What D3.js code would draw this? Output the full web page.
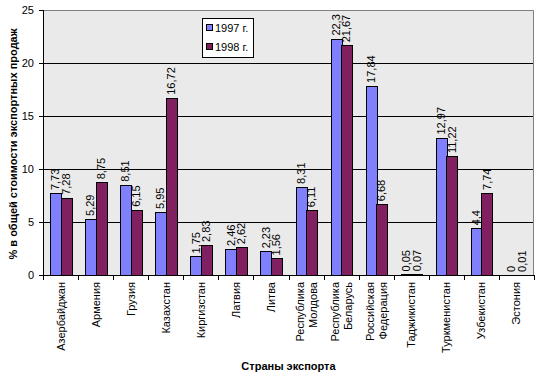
<!DOCTYPE html>
<html>
<head>
<meta charset="utf-8">
<script src="https://cdn.jsdelivr.net/npm/d3@7"></script>
<style>
  body { margin: 0; background: #fff; }
  text { font-family: Arial, "Liberation Sans", sans-serif; }
</style>
</head>
<body>
<script>
var countries = [["Азербайджан"], ["Армения"], ["Грузия"], ["Казахстан"], ["Киргизстан"], ["Латвия"], ["Литва"],
    ["Республика", "Молдова"], ["Республика", "Беларусь"], ["Российская", "Федерация"],
    ["Таджикистан"], ["Туркменистан"], ["Узбекистан"], ["Эстония"]];
var years = ["1997 г.", "1998 г."];
var v1997 = [7.73, 5.29, 8.51, 5.95, 1.75, 2.46, 2.23, 8.31, 22.3, 17.84, 0.05, 12.97, 4.4, 0];
var v1998 = [7.28, 8.75, 6.15, 16.72, 2.83, 2.62, 1.56, 6.11, 21.67, 6.68, 0.07, 11.22, 7.74, 0.01];
var yTicks = [0, 5, 10, 15, 20, 25];
var colors = ["#8080FF", "#802060"];

var margin = {left: 43, right: 7, top: 10, bottom: 101};
var width = 541, height = 376;
var pw = width - margin.left - margin.right, ph = height - margin.top - margin.bottom;

var svg = d3.select("body").append("svg").attr("width", width).attr("height", height);
var g = svg.append("g").attr("transform", "translate(" + margin.left + "," + margin.top + ")");

var keys = countries.map(function(d, i) { return "c" + i; });
var x = d3.scaleBand().domain(keys).range([0, pw]).paddingInner(0.4).paddingOuter(0.2);
var x1 = d3.scaleBand().domain([0, 1]).range([0, x.bandwidth()]);
var y = d3.scaleLinear().domain([0, 25]).range([ph, 0]);

g.append("rect").attr("width", pw).attr("height", ph).attr("fill", "#EAEAEA");

// gridlines
g.selectAll(".grid").data(yTicks.slice(1, -1)).enter().append("line")
    .attr("x1", 0).attr("x2", pw)
    .attr("y1", function(d) { return Math.round(y(d)) + 0.5; })
    .attr("y2", function(d) { return Math.round(y(d)) + 0.5; })
    .attr("stroke", "#000");

// top / right border
g.append("path").attr("d", "M0.5,0.5H" + (pw - 0.5) + "V" + ph)
    .attr("fill", "none").attr("stroke", "#808080");

var data = [];
v1997.forEach(function(v, i) {
    data.push({k: keys[i], s: 0, v: v});
    data.push({k: keys[i], s: 1, v: v1998[i]});
});

g.selectAll(".bar").data(data).enter().append("rect")
    .attr("x", function(d) { return Math.round(x(d.k) + x1(d.s)) + 0.5; })
    .attr("y", function(d) { return Math.round(y(d.v)) + 0.5; })
    .attr("width", Math.round(x1.bandwidth()))
    .attr("height", function(d) { return Math.max(0, Math.round(ph - y(d.v))); })
    .attr("fill", function(d) { return colors[d.s]; })
    .attr("stroke", "#000");

// value labels
g.selectAll(".lbl").data(data).enter().append("text")
    .attr("transform", function(d) {
        var cx = x(d.k) + x1(d.s) + x1.bandwidth() / 2 + 4;
        return "translate(" + cx + "," + (y(d.v) - 3) + ") rotate(-90)";
    })
    .attr("font-size", 11)
    .text(function(d) { return String(d.v).replace(".", ","); });

// y axis
var yAxis = g.append("g").call(d3.axisLeft(y).tickValues(yTicks).tickSize(4).tickPadding(5));
yAxis.select(".domain").remove();
yAxis.selectAll("text").attr("font-size", 11).attr("font-family", "Arial, 'Liberation Sans', sans-serif");
yAxis.selectAll("line").attr("stroke", "#000");
g.append("line").attr("x1", 0.5).attr("x2", 0.5).attr("y1", 0).attr("y2", ph).attr("stroke", "#000");

// x axis
g.append("line").attr("x1", 0).attr("x2", pw).attr("y1", ph + 0.5).attr("y2", ph + 0.5).attr("stroke", "#000");
var bounds = keys.map(function(k) { return x(k) - x.step() * x.paddingOuter(); }).concat([pw]);
g.selectAll(".xt").data(bounds).enter().append("line")
    .attr("x1", function(d) { return Math.round(d) + 0.5; })
    .attr("x2", function(d) { return Math.round(d) + 0.5; })
    .attr("y1", ph).attr("y2", ph + 5).attr("stroke", "#000");

countries.forEach(function(lines, i) {
    var c = x(keys[i]) + x.bandwidth() / 2;
    lines.forEach(function(t, j) {
        var off = lines.length === 1 ? 4 : (j === 0 ? -2 : 11);
        g.append("text")
            .attr("transform", "translate(" + (c + off) + "," + (ph + 7) + ") rotate(-90)")
            .attr("text-anchor", "end").attr("font-size", 11)
            .text(t);
    });
});

// titles
svg.append("text").attr("x", margin.left + pw / 2).attr("y", 370)
    .attr("text-anchor", "middle").attr("font-size", 11).attr("font-weight", "bold")
    .text("Страны экспорта");
svg.append("text").attr("transform", "translate(17,144) rotate(-90)")
    .attr("text-anchor", "middle").attr("font-size", 11).attr("font-weight", "bold")
    .text("% в общей стоимости экспортных продаж");

// legend
var lg = svg.append("g").attr("transform", "translate(202,18)");
lg.append("rect").attr("x", 0.5).attr("y", 0.5).attr("width", 51).attr("height", 39)
    .attr("fill", "#fff").attr("stroke", "#000");
years.forEach(function(t, i) {
    var yy = 10 + i * 19;
    lg.append("rect").attr("x", 4.5).attr("y", yy - 3.5).attr("width", 6).attr("height", 6)
        .attr("fill", colors[i]).attr("stroke", "#000");
    lg.append("text").attr("x", 13).attr("y", yy + 4).attr("font-size", 11).text(t);
});
</script>
</body>
</html>
